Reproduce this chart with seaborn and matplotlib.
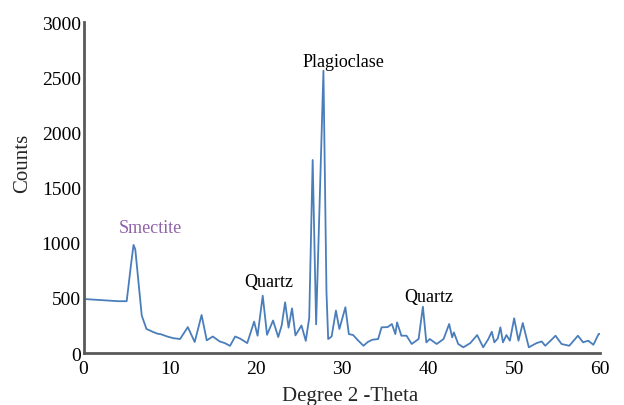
import matplotlib
matplotlib.use("Agg")
import matplotlib.pyplot as plt
import seaborn as sns
import pandas as pd

two_theta = [0.0, 2.0, 4.0, 5.0, 5.2, 5.5, 5.8, 6.0, 6.3, 6.75, 7.3, 8.1, 8.6, 9.0, 9.7, 10.4, 11.2,
             12.1, 12.9, 13.7, 14.3, 15.0, 15.8, 16.4, 17.0, 17.6, 18.2, 19.0, 19.8, 20.2, 20.8,
             21.3, 22.0, 22.6, 23.0, 23.4, 23.8, 24.2, 24.6, 25.3, 25.8, 26.2, 26.6, 27.0,
             27.85, 28.2, 28.4, 28.8, 29.3, 29.7, 30.4, 30.8, 31.3, 31.8, 32.5, 33.0, 33.5, 34.2,
             34.6, 35.3, 35.8, 36.2, 36.4, 36.9, 37.5, 38.1, 38.9, 39.4, 39.8, 40.2, 41.0, 41.8,
             42.45, 42.8, 43.0, 43.5, 44.1, 44.9, 45.7, 46.4, 47.0, 47.4, 47.7, 48.1, 48.4, 48.7,
             49.1, 49.5, 50.0, 50.5, 51.0, 51.7, 52.6, 53.2, 53.6, 54.2, 54.8, 55.5, 56.4, 57.4,
             58.0, 58.6, 59.2, 59.8, 60.0]
counts = [490, 480, 470, 470, 600, 800, 980, 940, 700, 340, 218, 190, 175, 170, 150, 135, 127,
          235, 100, 345, 115, 150, 105, 90, 65, 150, 130, 90, 285, 157, 520,
          165, 295, 145, 250, 460, 230, 405, 160, 250, 110, 320, 1750, 260,
          2560, 560, 127, 150, 385, 218, 415, 172, 163, 120, 66, 100, 120, 127,
          233, 235, 263, 172, 278, 157, 157, 82, 127, 420, 97, 127, 82, 127,
          263, 142, 187, 82, 52, 90, 163, 52, 127, 193, 97, 133, 233, 97,
          163, 112, 315, 112, 272, 52, 90, 105, 66, 110, 157, 82, 66, 157,
          97, 112, 75, 172, 175]

labels = ["Smectite", "Quartz", "Plagioclase", "Quartz"]
label_x = [7.8, 21.5, 30.15, 40.1]
label_y = [1060, 570, 2570, 440]
label_colors = ["#8e62a8", "black", "black", "black"]

df = pd.DataFrame({"theta": two_theta, "counts": counts})

sns.set_style("white")
plt.rcParams["font.family"] = ["Liberation Serif", "DejaVu Serif"]

fig = plt.figure(figsize=(6.24, 4.06), dpi=100)
ax = fig.add_axes([0.134, 0.128, 0.828, 0.815])
sns.lineplot(data=df, x="theta", y="counts", ax=ax, color="#4a7ebb", linewidth=1.3)

ax.set_xlim(0, 60)
ax.set_ylim(0, 3000)
ax.set_xticks([0, 10, 20, 30, 40, 50, 60])
ax.set_yticks([0, 500, 1000, 1500, 2000, 2500, 3000])
ax.tick_params(axis="both", labelsize=14, length=0, colors="black")
ax.tick_params(axis="x", pad=5)
ax.tick_params(axis="y", pad=2)
for s in ["top", "right"]:
    ax.spines[s].set_visible(False)
for s in ["left", "bottom"]:
    ax.spines[s].set_color("#595959")
    ax.spines[s].set_linewidth(2)

ax.set_xlabel("Degree 2 -Theta", fontsize=15)
ax.set_ylabel("Counts", fontsize=15)
ax.xaxis.set_label_coords(0.516, -0.1)
ax.yaxis.set_label_coords(-0.10, 0.577)

for t, x, y, c in zip(labels, label_x, label_y, label_colors):
    ax.text(x, y, t, ha="center", va="bottom", fontsize=13, color=c)

fig.savefig("out.png", dpi=100)
